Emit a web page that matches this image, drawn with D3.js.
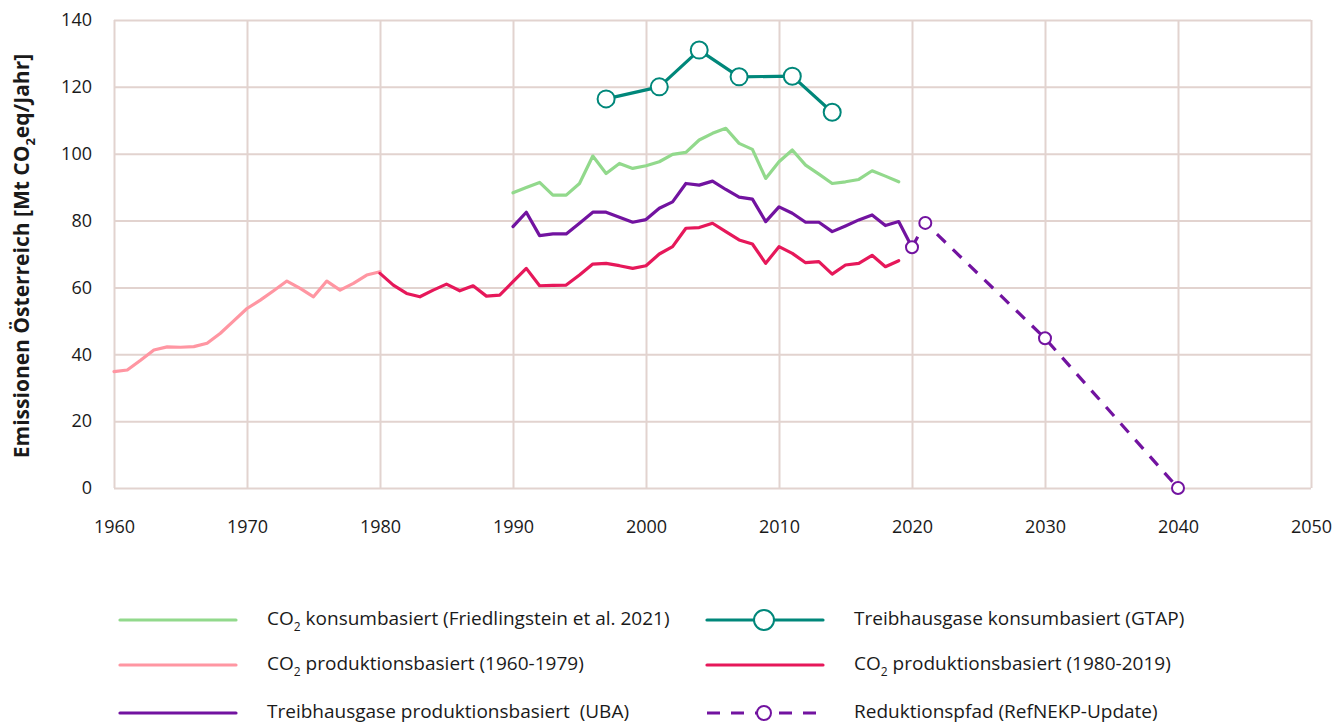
<!DOCTYPE html>
<html>
<head>
<meta charset="utf-8">
<title>Emissionen Österreich</title>
<script src="https://cdn.jsdelivr.net/npm/d3@7"></script>
<style>
  body { margin: 0; background: #fff; }
  svg text { font-family: "Open Sans", "Noto Sans", sans-serif; fill: #1a1a1a; white-space: pre; }
</style>
</head>
<body>
<div id="chart"></div>
<script>
// --- data ---
const pinkYears = d3.range(1960, 1981);
const pinkValues = [34.8, 35.3, 38.2, 41.3, 42.2, 42.1, 42.3, 43.3, 46.3, 50.0, 53.7,
                    56.2, 59.0, 61.9, 59.7, 57.2, 61.9, 59.2, 61.2, 63.7, 64.7];

const redYears = d3.range(1980, 2020);
const redValues = [64.2, 60.7, 58.2, 57.2, 59.2, 61.0, 59.0, 60.5, 57.4, 57.7,
                   61.7, 65.7, 60.5, 60.6, 60.7, 63.7, 67.0, 67.2, 66.5, 65.7,
                   66.5, 70.0, 72.2, 77.7, 77.9, 79.2, 76.7, 74.2, 73.0, 67.2,
                   72.2, 70.2, 67.4, 67.7, 64.0, 66.7, 67.2, 69.6, 66.2, 68.0];

const ubaYears = d3.range(1990, 2021);
const ubaValues = [78.2, 82.5, 75.5, 76.0, 76.0, 79.2, 82.5, 82.5, 81.0, 79.5,
                   80.3, 83.7, 85.6, 91.1, 90.6, 91.8, 89.3, 87.0, 86.4, 79.7,
                   84.1, 82.2, 79.5, 79.5, 76.7, 78.4, 80.2, 81.7, 78.5, 79.7, 72.0];

const greenYears = d3.range(1990, 2020);
const greenValues = [88.3, 89.9, 91.4, 87.6, 87.6, 91.1, 99.3, 94.1, 97.1, 95.6,
                     96.4, 97.6, 99.8, 100.4, 104.1, 106.1, 107.6, 103.1, 101.3, 92.6,
                     97.6, 101.1, 96.6, 93.9, 91.1, 91.6, 92.3, 94.9, 93.3, 91.6];

const gtapYears = [1997, 2001, 2004, 2007, 2011, 2014];
const gtapValues = [116.4, 120.0, 131.0, 123.0, 123.2, 112.4];

const pathYears = [2020, 2021, 2030, 2040];
const pathValues = [72.0, 79.3, 44.8, 0];

const xTicks = d3.range(1960, 2051, 10);
const yTicks = d3.range(0, 141, 20);

const colors = {
  green: '#92d98c',
  pink: '#ff96a2',
  red: '#e6185a',
  purple: '#7213a0',
  teal: '#00877a',
  grid: '#e2d3cf'
};

// --- layout ---
const width = 1335, height = 726;
const margin = { left: 114, right: 24, top: 20, bottom: 238 };
const innerW = width - margin.left - margin.right;
const innerH = height - margin.top - margin.bottom;

const svg = d3.select('#chart').append('svg')
  .attr('width', width)
  .attr('height', height);

const g = svg.append('g').attr('transform', `translate(${margin.left},${margin.top})`);

const xScale = d3.scaleLinear().domain([1960, 2050]).range([0, innerW]);
const yScale = d3.scaleLinear().domain([0, 140]).range([innerH, 0]);

// grid + axes
const xAxis = d3.axisBottom(xScale)
  .tickValues(xTicks)
  .tickFormat(d3.format('d'))
  .tickSize(-innerH)
  .tickPadding(32);

const yAxis = d3.axisLeft(yScale)
  .tickValues(yTicks)
  .tickSize(-innerW)
  .tickPadding(22);

const xAxisG = g.append('g').attr('transform', `translate(0,${innerH})`).call(xAxis);
const yAxisG = g.append('g').call(yAxis);

[xAxisG, yAxisG].forEach(a => {
  a.select('.domain').remove();
  a.selectAll('.tick line').attr('stroke', colors.grid).attr('stroke-width', 2);
  a.selectAll('.tick text').attr('font-size', 18).attr('fill', '#1a1a1a')
    .style('font-family', '"Open Sans", "Noto Sans", sans-serif');
});

// y axis title
const yTitle = svg.append('text')
  .attr('transform', `translate(29,${margin.top + innerH / 2 + 2}) rotate(-90)`)
  .attr('text-anchor', 'middle')
  .attr('font-size', 21)
  .attr('font-weight', 'bold');
yTitle.append('tspan').text('Emissionen Österreich [Mt CO');
yTitle.append('tspan').attr('font-size', 13).attr('dy', 6).text('2');
yTitle.append('tspan').attr('dy', -6).text('eq/Jahr]');

// lines
const line = d3.line()
  .x(d => xScale(d[0]))
  .y(d => yScale(d[1]));

const zip = (xs, ys) => xs.map((x, i) => [x, ys[i]]);

const drawLine = (data, color, dash) => g.append('path')
  .datum(data)
  .attr('fill', 'none')
  .attr('stroke', color)
  .attr('stroke-width', 3.2)
  .attr('stroke-linejoin', 'round')
  .attr('stroke-linecap', dash ? 'butt' : 'round')
  .attr('stroke-dasharray', dash || null)
  .attr('d', line);

drawLine(zip(pinkYears, pinkValues), colors.pink);
drawLine(zip(redYears, redValues), colors.red);
drawLine(zip(greenYears, greenValues), colors.green);
drawLine(zip(ubaYears, ubaValues), colors.purple);
drawLine(zip(pathYears, pathValues), colors.purple, '12,10');
drawLine(zip(gtapYears, gtapValues), colors.teal);

// markers
g.selectAll('.gtapDot')
  .data(zip(gtapYears, gtapValues))
  .enter().append('circle')
  .attr('class', 'gtapDot')
  .attr('cx', d => xScale(d[0]))
  .attr('cy', d => yScale(d[1]))
  .attr('r', 8.5)
  .attr('fill', '#fff')
  .attr('stroke', colors.teal)
  .attr('stroke-width', 2);

g.selectAll('.pathDot')
  .data(zip(pathYears, pathValues))
  .enter().append('circle')
  .attr('class', 'pathDot')
  .attr('cx', d => xScale(d[0]))
  .attr('cy', d => yScale(d[1]))
  .attr('r', 6)
  .attr('fill', '#fff')
  .attr('stroke', colors.purple)
  .attr('stroke-width', 2);

// legend
const legendItems = [
  { col: 0, row: 0, color: colors.green, label: ['CO', '2', ' konsumbasiert (Friedlingstein et al. 2021)'] },
  { col: 0, row: 1, color: colors.pink, label: ['CO', '2', ' produktionsbasiert (1960-1979)'] },
  { col: 0, row: 2, color: colors.purple, label: ['Treibhausgase produktionsbasiert  (UBA)'] },
  { col: 1, row: 0, color: colors.teal, label: ['Treibhausgase konsumbasiert (GTAP)'], marker: 'big' },
  { col: 1, row: 1, color: colors.red, label: ['CO', '2', ' produktionsbasiert (1980-2019)'] },
  { col: 1, row: 2, color: colors.purple, label: ['Reduktionspfad (RefNEKP-Update)'], marker: 'small', dash: '13,11' }
];

const colX = [120, 707];
const rowY = [620, 665, 713];

const legend = svg.append('g');
legendItems.forEach(it => {
  const x0 = colX[it.col], y0 = rowY[it.row];
  const lg = legend.append('g').attr('transform', `translate(${x0},${y0})`);
  lg.append('line')
    .attr('x1', 0).attr('x2', 116)
    .attr('stroke', it.color)
    .attr('stroke-width', 3.2)
    .attr('stroke-linecap', it.dash ? 'butt' : 'round')
    .attr('stroke-dasharray', it.dash || null);
  if (it.marker) {
    lg.append('circle')
      .attr('cx', 57)
      .attr('r', it.marker === 'big' ? 10 : 7)
      .attr('fill', '#fff')
      .attr('stroke', it.color)
      .attr('stroke-width', 2);
  }
  const t = lg.append('text')
    .attr('x', 147)
    .attr('y', 5)
    .attr('font-size', 19);
  if (it.label.length === 3) {
    t.append('tspan').text(it.label[0]);
    t.append('tspan').attr('font-size', 12).attr('dy', 6).text(it.label[1]);
    t.append('tspan').attr('dy', -6).text(it.label[2]);
  } else {
    t.text(it.label[0]);
  }
});
</script>
</body>
</html>
